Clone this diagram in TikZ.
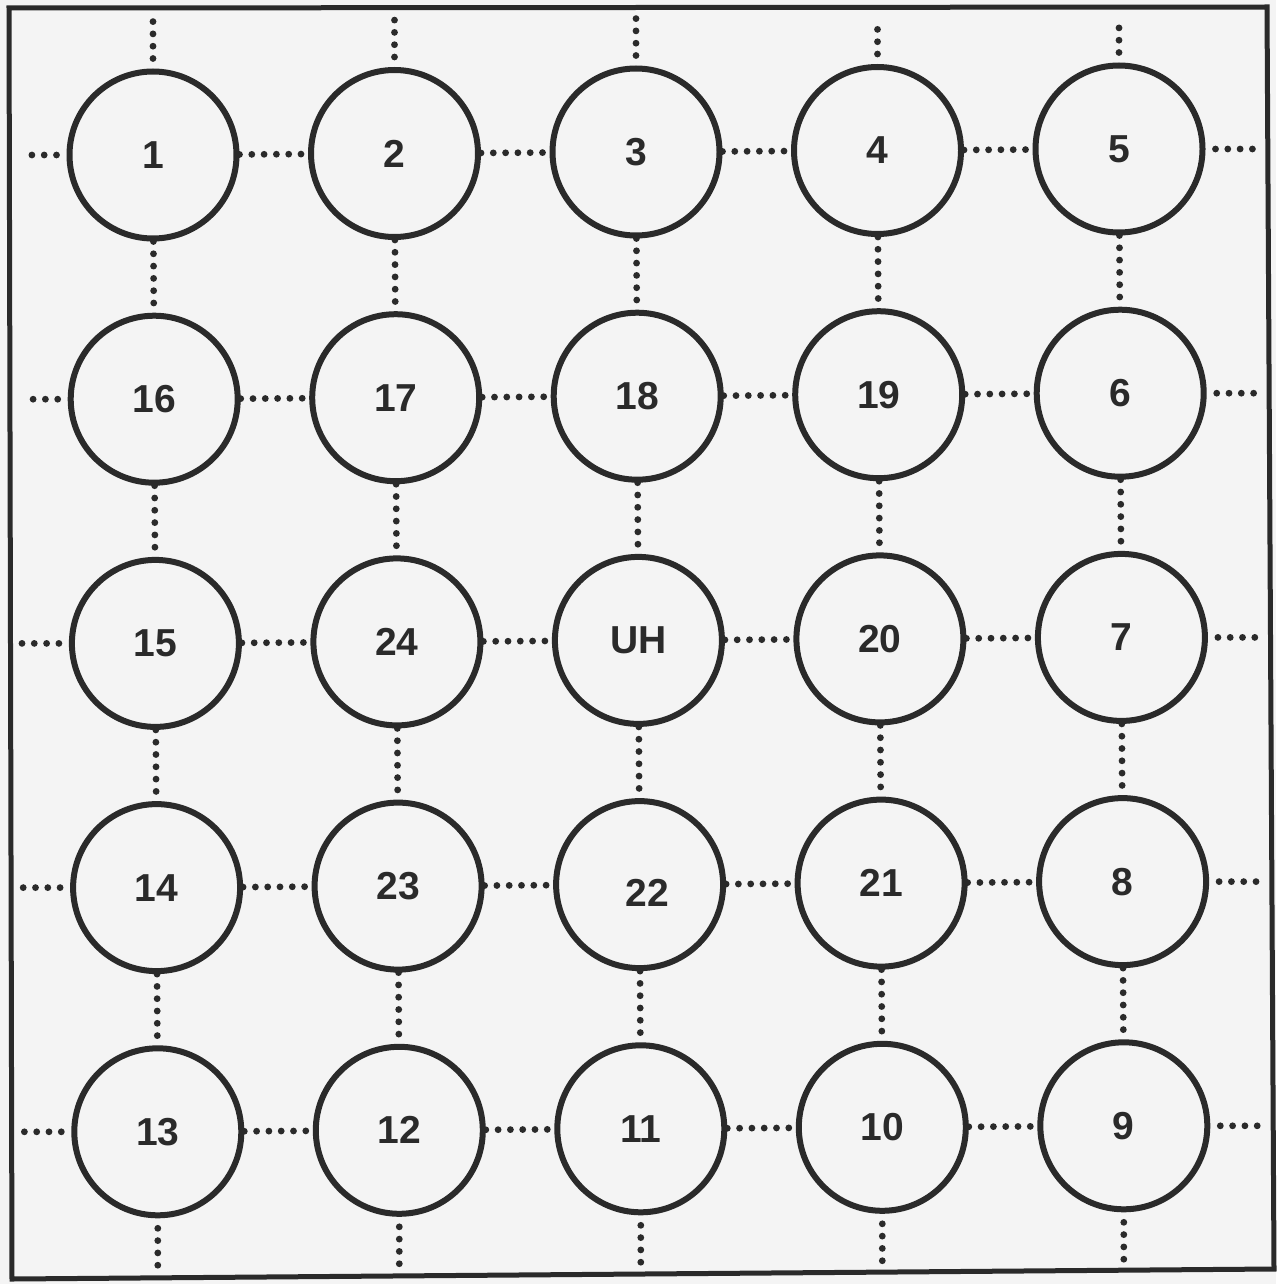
\documentclass[tikz,border=0pt]{standalone}
\usepackage{fontspec}
\setmainfont{Liberation Sans}
\definecolor{ink}{HTML}{2A2A2A}
\definecolor{paper}{HTML}{F4F4F4}
\begin{document}
\begin{tikzpicture}[x=0.5pt,y=-0.5pt,
  numfont/.style={font=\bfseries\fontsize{19.5}{21}\selectfont,text=ink},
  cell/.style={circle,draw=ink,line width=3pt,minimum size=83.5pt,inner sep=0pt,numfont},
  link/.style={draw=ink,line width=3.4pt,line cap=round,dash pattern=on 0pt off 6.15pt},
  stub/.style={link,shorten <=5pt},
  frameline/.style={draw=ink,line width=2.5pt,line join=miter}]
\fill[paper] (0,0) rectangle (1276,1284);
\useasboundingbox (0,0) rectangle (1276,1284);
% frame
\draw[frameline] (9,8) -- (1267,7) -- (1274,1269) -- (12,1279) -- cycle;
% cells (the label of cell 22 is set separately, slightly off centre as printed)
\foreach \lab [count=\i from 0] in {1,2,3,4,5,16,17,18,19,6,15,24,UH,20,7,14,23,{},21,8,13,12,11,10,9}{
  \pgfmathtruncatemacro\r{int(\i/5)}
  \pgfmathtruncatemacro\c{mod(\i,5)}
  \node[cell] (n\r\c) at ({153+241.5*\c+1.2*\r},{155+244.2*\r-1.5*\c}) {\lab};
}
\node[numfont,inner sep=0pt] (t22) at ([xshift=4pt,yshift=-4pt]n32.center) {22};
% stub ends
\foreach \k in {0,...,4}{
  \coordinate (L\k) at (21,{155+244.2*\k});
  \coordinate (R\k) at (1261,{155+244.2*\k-6});
  \coordinate (T\k) at ({153+241.5*\k},18);
  \coordinate (B\k) at ({153+241.5*\k+4.8},{1270-2.2*\k});
}
% horizontal links
\foreach \r in {0,...,4}{
  \foreach \c/\d in {0/1,1/2,2/3,3/4}{
    \draw[link] (n\r\c) -- (n\r\d);
  }
  \draw[stub] (n\r0) -- (L\r);
  \draw[stub] (n\r4) -- (R\r);
}
% vertical links
\foreach \c in {0,...,4}{
  \foreach \r/\s in {0/1,1/2,2/3,3/4}{
    \draw[link] (n\r\c) -- (n\s\c);
  }
  \draw[stub] (n0\c) -- (T\c);
  \draw[stub] (n4\c) -- (B\c);
}
\end{tikzpicture}
\end{document}
